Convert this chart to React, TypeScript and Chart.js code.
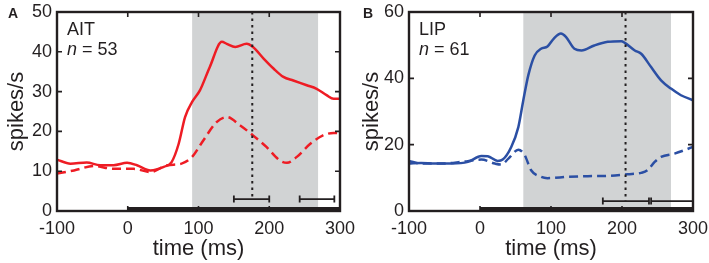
import React, { useEffect, useRef } from "react";
import { Chart, registerables } from "chart.js";

Chart.register(...registerables);

// ---------- data ----------
const xTicks = [-100, 0, 100, 200, 300];
const yTicksA = [0, 10, 20, 30, 40, 50];
const yTicksB = [0, 20, 40, 60];

// Panel A (AIT)
const timeSolidA = [-100, -81, -58, -39, -20, -1, 13, 32, 51, 62, 72, 81, 91, 102, 116, 133, 140, 152, 168, 177, 192, 206, 220, 234, 253, 267, 281, 291, 300];
const solidA = [12.9, 11.9, 12.2, 11.5, 11.5, 12.1, 11.5, 10.2, 11.1, 12.3, 16.9, 23.6, 27.4, 30.3, 36.2, 42.5, 42.0, 41.2, 42.0, 41.2, 38.3, 35.8, 33.7, 32.8, 31.6, 30.7, 29.1, 28.2, 28.2];
const timeDashedA = [-100, -76, -48, -20, 8, 32, 56, 76, 91, 107, 126, 140, 159, 177, 196, 215, 225, 239, 258, 276, 291, 300];
const dashedA = [9.4, 10.2, 11.3, 10.6, 10.6, 9.8, 11.5, 11.9, 13.6, 17.8, 22.4, 23.6, 21.5, 19.0, 16.1, 12.7, 12.1, 13.6, 16.9, 19.0, 19.6, 19.6];
const shadeA = [91, 269];
const markerA = 176;
const errBarsA = [[150, 200], [243, 292]];

// Panel B (LIP)
const timeSolidB = [-100, -83, -64, -40, -17, 2, 11, 25, 32, 44, 54, 61, 68, 77, 86, 95, 104, 114, 121, 133, 143, 161, 180, 199, 204, 218, 227, 241, 255, 269, 283, 300];
const solidB = [14.3, 14.5, 14.3, 14.3, 14.8, 16.6, 16.5, 15.1, 15.5, 19.3, 25.3, 33.4, 40.9, 46.9, 48.9, 49.6, 52.0, 53.5, 52.5, 48.9, 48.4, 49.9, 51.0, 51.2, 50.7, 48.4, 47.4, 43.4, 39.4, 36.9, 34.9, 33.4];
const timeDashedB = [-100, -83, -54, -26, 2, 21, 30, 40, 54, 63, 72, 86, 95, 124, 152, 180, 208, 227, 236, 246, 255, 274, 300];
const dashedB = [15.1, 14.3, 14.3, 14.8, 15.5, 14.3, 14.0, 15.8, 18.5, 16.8, 12.3, 10.3, 9.9, 10.3, 10.5, 10.6, 11.1, 11.5, 12.3, 14.8, 16.3, 17.3, 19.3];
const shadeB = [61, 269];
const markerB = 205;
const errBarsB = [[173, 238], [241, 300]];

const stimulus = [0, 300];
const errBarY = 3;

// ---------- style ----------
const FONT = '"Liberation Sans", Arial, Helvetica, sans-serif';
const INK = "#231f20";
const RED = "#ee1c24";
const BLUE = "#2b4fa4";
const GRAY = "#d1d3d4";

type PanelProps = {
  left: number;
  width: number;
  yAxisWidth: number;
  padRight: number;
  letter: string;
  area: string;
  n: string;
  color: string;
  timeSolid: number[];
  solid: number[];
  timeDashed: number[];
  dashed: number[];
  yTicks: number[];
  shade: number[];
  marker: number;
  errBars: number[][];
};

function pts(t: number[], v: number[]) {
  return t.map((x, i) => ({ x, y: v[i] }));
}

function Panel(p: PanelProps) {
  const ref = useRef<HTMLCanvasElement | null>(null);
  useEffect(() => {
    if (!ref.current) return;
    const yMax = p.yTicks[p.yTicks.length - 1];
    const decor = {
      id: "decor",
      beforeDatasetsDraw(chart: any) {
        const { ctx, chartArea: a, scales } = chart;
        const xs = scales.x;
        ctx.save();
        ctx.fillStyle = GRAY;
        const x0 = xs.getPixelForValue(p.shade[0]);
        const x1 = xs.getPixelForValue(p.shade[1]);
        ctx.fillRect(x0, a.top, x1 - x0, a.bottom - a.top);
        ctx.restore();
      },
      afterDatasetsDraw(chart: any) {
        const { ctx, chartArea: a, scales } = chart;
        const xs = scales.x;
        const ys = scales.y;
        ctx.save();
        // dotted marker
        ctx.strokeStyle = INK;
        ctx.lineWidth = 2;
        ctx.setLineDash([2.5, 4]);
        const mx = xs.getPixelForValue(p.marker);
        ctx.beginPath();
        ctx.moveTo(mx, a.top);
        ctx.lineTo(mx, ys.getPixelForValue(errBarY));
        ctx.stroke();
        ctx.setLineDash([]);
        // error bars
        ctx.lineWidth = 1.8;
        const ey = ys.getPixelForValue(errBarY);
        p.errBars.forEach(([s, e]) => {
          const sx = xs.getPixelForValue(s);
          const ex = xs.getPixelForValue(e);
          ctx.beginPath();
          ctx.moveTo(sx, ey);
          ctx.lineTo(ex, ey);
          ctx.moveTo(sx, ey - 3.5);
          ctx.lineTo(sx, ey + 3.5);
          ctx.moveTo(ex, ey - 3.5);
          ctx.lineTo(ex, ey + 3.5);
          ctx.stroke();
        });
        // stimulus bar
        ctx.fillStyle = INK;
        const s0 = xs.getPixelForValue(stimulus[0]);
        const s1 = xs.getPixelForValue(stimulus[1]);
        ctx.fillRect(s0, a.bottom - 4, s1 - s0, 5);
        // frame
        ctx.lineWidth = 2.4;
        ctx.strokeStyle = INK;
        ctx.strokeRect(a.left, a.top, a.right - a.left, a.bottom - a.top);
        // inward ticks
        ctx.lineWidth = 1.6;
        ctx.beginPath();
        xTicks.forEach((t) => {
          const x = xs.getPixelForValue(t);
          ctx.moveTo(x, a.top);
          ctx.lineTo(x, a.top + 5);
          ctx.moveTo(x, a.bottom);
          ctx.lineTo(x, a.bottom - 5);
        });
        p.yTicks.forEach((t) => {
          const y = ys.getPixelForValue(t);
          ctx.moveTo(a.left, y);
          ctx.lineTo(a.left + 5, y);
          ctx.moveTo(a.right, y);
          ctx.lineTo(a.right - 5, y);
        });
        ctx.stroke();
        // labels
        ctx.fillStyle = INK;
        ctx.textBaseline = "alphabetic";
        ctx.textAlign = "left";
        ctx.font = `bold 14px ${FONT}`;
        ctx.fillText(p.letter, 8, 18);
        ctx.font = `18px ${FONT}`;
        ctx.fillText(p.area, a.left + 10, 35);
        ctx.font = `italic 18px ${FONT}`;
        ctx.fillText("n", a.left + 10, 55);
        const nw = ctx.measureText("n").width;
        ctx.font = `18px ${FONT}`;
        ctx.fillText(" = " + p.n, a.left + 10 + nw, 55);
        ctx.restore();
      },
    };

    const chart = new Chart(ref.current, {
      type: "line",
      data: {
        datasets: [
          {
            data: pts(p.timeSolid, p.solid),
            borderColor: p.color,
            borderWidth: 2.5,
            pointRadius: 0,
            cubicInterpolationMode: "monotone",
          },
          {
            data: pts(p.timeDashed, p.dashed),
            borderColor: p.color,
            borderWidth: 2.5,
            borderDash: [9, 5],
            pointRadius: 0,
            cubicInterpolationMode: "monotone",
          },
        ],
      },
      options: {
        animation: false,
        responsive: false,
        devicePixelRatio: 1,
        layout: { padding: { left: 0, right: p.padRight, top: 12, bottom: 0 } },
        plugins: { legend: { display: false }, tooltip: { enabled: false } },
        scales: {
          x: {
            type: "linear",
            min: -100,
            max: 300,
            afterBuildTicks: (s: any) => {
              s.ticks = xTicks.map((v) => ({ value: v }));
            },
            afterFit: (s: any) => {
              s.height = 52;
              s.paddingLeft = 0;
              s.paddingRight = 0;
            },
            grid: { display: false, drawTicks: false },
            border: { display: false },
            ticks: {
              color: INK,
              font: { family: FONT, size: 18 },
              padding: 7,
              maxRotation: 0,
              autoSkip: false,
            },
            title: {
              display: true,
              text: "time (ms)",
              color: INK,
              font: { family: FONT, size: 22 },
              padding: { top: 0, bottom: 1 },
            },
          },
          y: {
            type: "linear",
            min: 0,
            max: yMax,
            afterBuildTicks: (s: any) => {
              s.ticks = p.yTicks.map((v) => ({ value: v }));
            },
            afterFit: (s: any) => {
              s.width = p.yAxisWidth;
              s.paddingTop = 0;
              s.paddingBottom = 0;
            },
            grid: { display: false, drawTicks: false },
            border: { display: false },
            ticks: {
              color: INK,
              font: { family: FONT, size: 18 },
              padding: 5,
              autoSkip: false,
            },
            title: {
              display: true,
              text: "spikes/s",
              color: INK,
              font: { family: FONT, size: 22 },
              padding: { top: 4, bottom: 0 },
            },
          },
        },
      },
      plugins: [decor],
    } as any);
    return () => chart.destroy();
  }, []);
  return (
    <canvas
      ref={ref}
      width={p.width}
      height={263}
      style={{ position: "absolute", left: p.left, top: 0, width: p.width, height: 263 }}
    />
  );
}

export default function App() {
  return (
    <div style={{ position: "fixed", left: 0, top: 0, width: 709, height: 263, background: "#fff" }}>
      <Panel
        left={0}
        width={355}
        yAxisWidth={57}
        padRight={15}
        letter="A"
        area="AIT"
        n="53"
        color={RED}
        timeSolid={timeSolidA}
        solid={solidA}
        timeDashed={timeDashedA}
        dashed={dashedA}
        yTicks={yTicksA}
        shade={shadeA}
        marker={markerA}
        errBars={errBarsA}
      />
      <Panel
        left={355}
        width={354}
        yAxisWidth={54}
        padRight={16}
        letter="B"
        area="LIP"
        n="61"
        color={BLUE}
        timeSolid={timeSolidB}
        solid={solidB}
        timeDashed={timeDashedB}
        dashed={dashedB}
        yTicks={yTicksB}
        shade={shadeB}
        marker={markerB}
        errBars={errBarsB}
      />
    </div>
  );
}
